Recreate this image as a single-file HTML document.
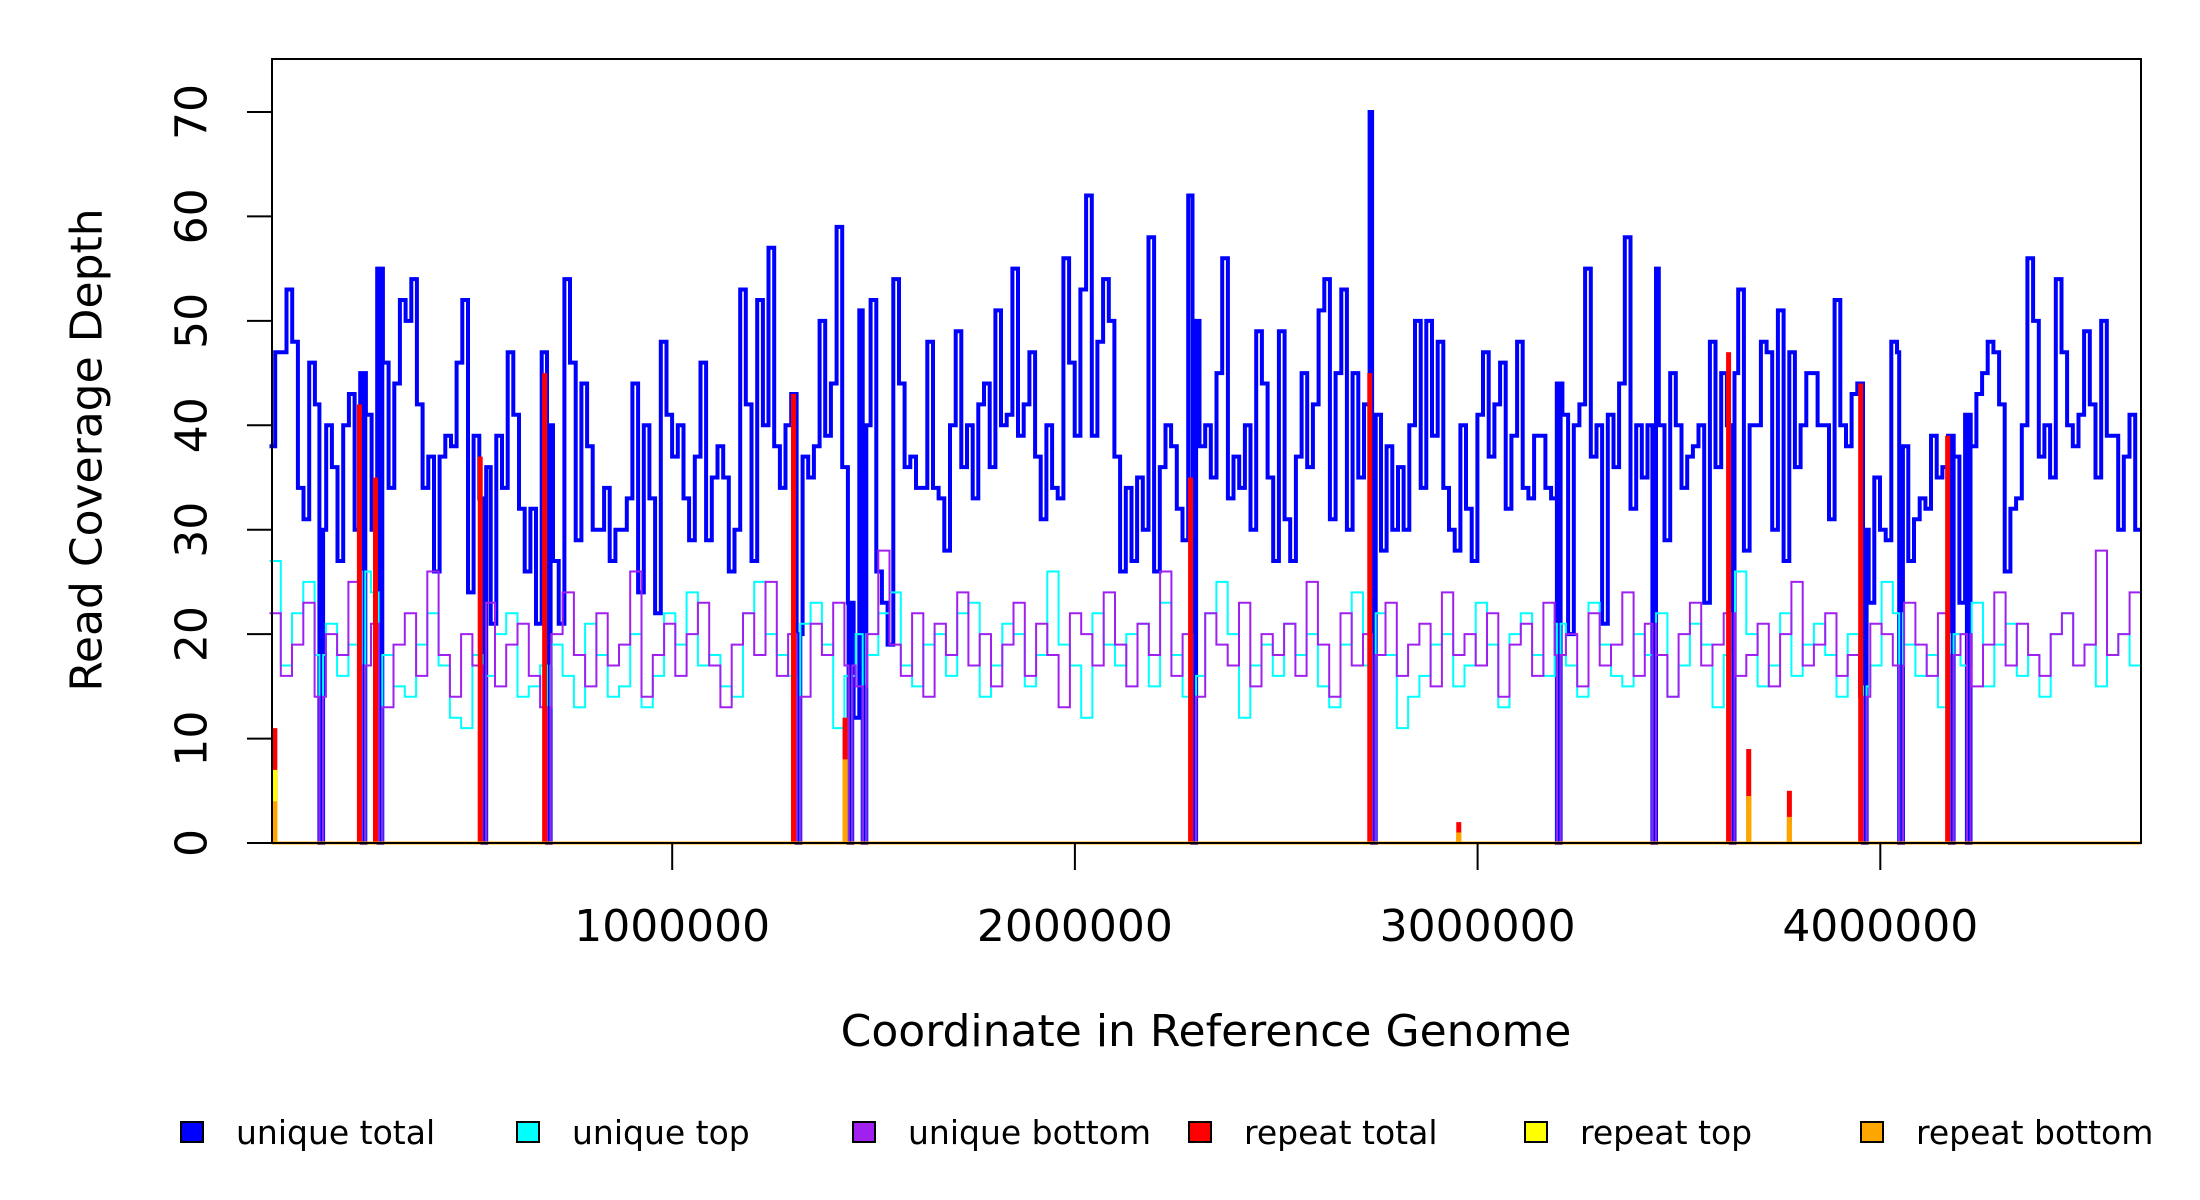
<!DOCTYPE html>
<html><head><meta charset="utf-8"><style>
body{margin:0;background:#fff;}
svg{display:block;font-family:"DejaVu Sans","Liberation Sans",sans-serif;}
</style></head><body>
<svg id="chart" width="2200" height="1200" viewBox="0 0 2200 1200">
<rect x="0" y="0" width="2200" height="1200" fill="#fff"/>
<g id="plot"></g>
<rect x="272" y="59" width="1869" height="784" fill="none" stroke="#000" stroke-width="2"/>
<g id="axes"></g>
<text x="87" y="450" font-size="44" text-anchor="middle" dominant-baseline="central" transform="rotate(-90 87 450)">Read Coverage Depth</text>
<text x="1206" y="1046" font-size="44" text-anchor="middle">Coordinate in Reference Genome</text>
<g id="legend"></g>
</svg>
<script>
const uniqueTotal=[38,47,47,53,48,34,31,46,42,30,40,36,27,40,43,30,45,41,30,55,46,34,44,52,50,54,42,34,37,26,37,39,38,46,52,24,39,33,36,21,39,34,47,41,32,26,32,21,47,40,27,21,54,46,29,44,38,30,30,34,27,30,30,33,44,24,40,33,22,48,41,37,40,33,29,37,46,29,35,38,35,26,30,53,42,27,52,40,57,38,34,40,43,20,37,35,38,50,39,44,59,36,23,12,51,40,52,26,23,19,54,44,36,37,34,34,48,34,33,28,40,49,36,40,33,42,44,36,51,40,41,55,39,42,47,37,31,40,34,33,56,46,39,53,62,39,48,54,50,37,26,34,27,35,30,58,26,36,40,38,32,29,62,50,38,40,35,45,56,33,37,34,40,30,49,44,35,27,49,31,27,37,45,36,42,51,54,31,45,53,30,45,35,42,70,41,28,38,30,36,30,40,50,34,50,39,48,34,30,28,40,32,27,41,47,37,42,46,32,39,48,34,33,39,39,34,33,44,41,20,40,42,55,37,40,21,41,36,44,58,32,40,35,40,55,40,29,45,40,34,37,38,40,23,48,36,45,40,45,53,28,40,40,48,47,30,51,27,47,36,40,45,45,40,40,31,52,40,38,43,44,30,23,35,30,29,48,47,38,27,31,33,32,39,35,36,39,37,23,41,38,43,45,48,47,42,26,32,33,40,56,50,37,40,35,54,47,40,38,41,49,42,35,50,39,39,30,37,41,30];
const uniqueTop=[27,17,22,25,18,21,16,19,26,24,18,15,14,19,22,17,12,11,18,16,20,22,14,15,17,19,16,13,21,18,14,15,20,13,16,22,19,24,17,18,15,14,22,25,20,18,16,21,23,19,11,16,20,18,22,24,17,15,19,20,16,22,23,14,17,21,20,15,18,26,19,17,12,22,19,17,20,21,15,23,18,14,16,22,25,20,12,17,19,16,21,18,20,15,13,19,24,17,22,18,11,14,16,19,20,15,17,23,19,13,20,22,18,16,21,17,14,23,19,16,15,20,18,22,14,17,21,19,13,18,26,20,15,17,22,16,19,21,18,14,20,15,17,25,22,19,16,18,13,20,17,23,15,19,21,16,18,14,20,22,17,19,15,18,20,17];
const uniqueBottom=[22,16,19,23,14,20,18,25,17,21,13,19,22,16,26,18,14,20,17,23,15,19,21,16,13,20,24,18,15,22,17,19,26,14,18,21,16,20,23,17,13,19,22,18,25,16,20,14,21,18,23,17,15,20,28,19,16,22,14,21,18,24,17,20,15,19,23,16,21,18,13,22,20,17,24,19,15,21,18,26,16,20,14,22,19,17,23,15,20,18,21,16,25,19,14,22,17,20,18,23,16,19,21,15,24,18,20,17,22,14,19,21,16,23,18,20,15,22,17,19,24,16,21,18,14,20,23,17,19,22,16,18,21,15,20,25,17,19,22,16,18,14,21,20,17,23,19,16,22,18,20,15,19,24,17,21,18,16,20,22,17,19,28,18,20,24];
const gapStarts=[124000,229000,271000,529000,689000,1309000,1438000,1473000,2292000,2738000,3197000,3434000,3629000,4047000,3957000,4173000,4215000];
const repeatPos=[12000,222000,262000,522000,682000,1300000,1428000,2286000,2731000,2952000,3622000,3672000,3773000,3950000,4166000];
const repeatTotal=[11,42,35,37,45,43,12,35,45,2,47,9,5,44,39];
const repeatTop=[7,0,0,0,0,0,8,0,0,1,0,4,2,0,0];
const repeatBottom=[4,0,0,0,0,0,8,0,0,1,0,4.5,2.5,0,0];
const xTicks=[1000000,2000000,3000000,4000000];
const xTickLabels=["1000000","2000000","3000000","4000000"];
const yTicks=[0,10,20,30,40,50,60,70];
const genomeLength=4647000;

const NS="http://www.w3.org/2000/svg";
const L=272,R=2141,T=59,B=843;
function sx(v){return 269.5+v*402.7/1e6;}
function sy(v){return 843-v*(731/70);}
const gapW=9000;
function inGap(x){return gapStarts.some(g=>x>=g&&x<g+gapW);}
function stepPath(arr){
  const bw=genomeLength/arr.length;
  let pts=[0];
  for(let i=1;i<arr.length;i++)pts.push(i*bw);
  gapStarts.forEach(g=>{pts.push(g);pts.push(g+gapW);});
  pts.push(genomeLength);
  pts=pts.filter(p=>p>=0&&p<=genomeLength).sort((a,b)=>a-b);
  let d="";
  for(let i=0;i<pts.length-1;i++){
    const a=pts[i],b=pts[i+1];if(b-a<1)continue;
    const m=(a+b)/2;
    const v=inGap(m)?0:arr[Math.min(arr.length-1,Math.floor(m/bw))];
    const y=sy(v);
    d+=(d===""?"M":"L")+sx(a).toFixed(1)+","+y.toFixed(1)+"L"+sx(b).toFixed(1)+","+y.toFixed(1);
  }
  return d;
}
const plot=document.getElementById('plot');
function addPath(arr,color,w,name){
  const p=document.createElementNS(NS,'path');
  p.setAttribute('d',stepPath(arr));
  p.setAttribute('fill','none');p.setAttribute('stroke',color);p.setAttribute('stroke-width',w);
  
  
  plot.appendChild(p);
}
addPath(uniqueTotal,'#0000ff',4,'unique-total-line');
addPath(uniqueTop,'#00ffff',2,'unique-top-line');
addPath(uniqueBottom,'#a020f0',2,'unique-bottom-line');
function addSpikes(vals,color,name){
  vals.forEach((v,i)=>{
    if(v<=0)return;
    const r=document.createElementNS(NS,'rect');
    const x=sx(repeatPos[i]);
    r.setAttribute('x',x-2);r.setAttribute('width',5);
    r.setAttribute('y',sy(v));r.setAttribute('height',B-sy(v));
    r.setAttribute('fill',color);
    
    
    plot.appendChild(r);
  });
}
addSpikes(repeatTotal,'#ff0000','repeat-total-spike');
addSpikes(repeatTop,'#ffff00','repeat-top-spike');
addSpikes(repeatBottom,'#ffa500','repeat-bottom-spike');
const base=document.createElementNS(NS,'line');
base.setAttribute('x1',L);base.setAttribute('x2',R);base.setAttribute('y1',sy(0));base.setAttribute('y2',sy(0));
base.setAttribute('stroke','#ffa500');base.setAttribute('stroke-width',3);


plot.appendChild(base);

const axes=document.getElementById('axes');
yTicks.forEach(v=>{
  const y=sy(v);
  const l=document.createElementNS(NS,'line');
  l.setAttribute('x1',247);l.setAttribute('x2',L);l.setAttribute('y1',y);l.setAttribute('y2',y);
  l.setAttribute('stroke','#000');l.setAttribute('stroke-width',2);
  
  
  axes.appendChild(l);
  const t=document.createElementNS(NS,'text');
  t.setAttribute('x',192);t.setAttribute('y',y);t.setAttribute('font-size',44);
  t.setAttribute('text-anchor','middle');t.setAttribute('dominant-baseline','central');
  t.setAttribute('transform','rotate(-90 192 '+y+')');
  t.textContent=v;
  
  
  axes.appendChild(t);
});
xTicks.forEach((v,i)=>{
  const x=sx(v);
  const l=document.createElementNS(NS,'line');
  l.setAttribute('x1',x);l.setAttribute('x2',x);l.setAttribute('y1',B);l.setAttribute('y2',870);
  l.setAttribute('stroke','#000');l.setAttribute('stroke-width',2);
  
  
  axes.appendChild(l);
  const t=document.createElementNS(NS,'text');
  t.setAttribute('x',x);t.setAttribute('y',941);t.setAttribute('font-size',44);
  t.setAttribute('text-anchor','middle');
  t.textContent=xTickLabels[i];
  
  
  axes.appendChild(t);
});
const legendLabels=["unique total","unique top","unique bottom","repeat total","repeat top","repeat bottom"];
const legendColors=["#0000ff","#00ffff","#a020f0","#ff0000","#ffff00","#ffa500"];
const lg=document.getElementById('legend');
legendLabels.forEach((s,i)=>{
  const x0=181+i*336;
  const r=document.createElementNS(NS,'rect');
  r.setAttribute('x',x0);r.setAttribute('y',1122);r.setAttribute('width',22);r.setAttribute('height',20);
  r.setAttribute('fill',legendColors[i]);r.setAttribute('stroke','#000');r.setAttribute('stroke-width',2);
  
  
  lg.appendChild(r);
  const t=document.createElementNS(NS,'text');
  t.setAttribute('x',x0+55);t.setAttribute('y',1144);t.setAttribute('font-size',33);
  t.textContent=s;
  
  
  lg.appendChild(t);
});
</script>
</body></html>
